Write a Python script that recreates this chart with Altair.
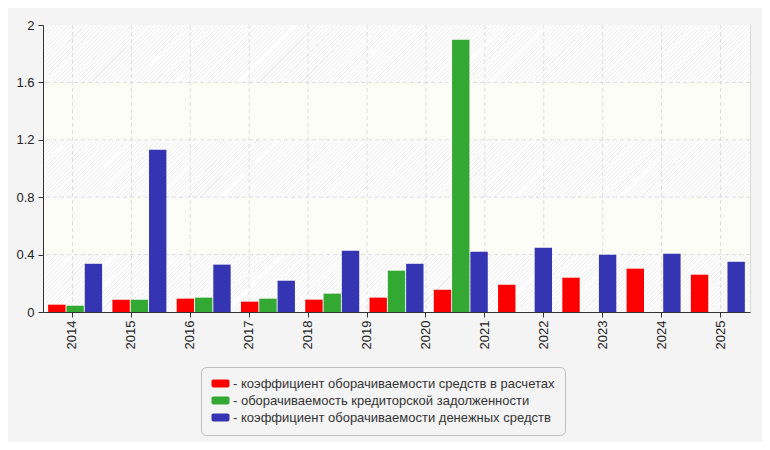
import altair as alt
import pandas as pd

# ---- data ----
periods = ["2014", "2015", "2016", "2017", "2018", "2019", "2020", "2021", "2022", "2023", "2024"]
axis_labels = ["2014", "2015", "2016", "2017", "2018", "2019", "2020", "2021", "2022", "2023", "2024", "2025"]

series_names = [
    "коэффициент оборачиваемости средств в расчетах",
    "оборачиваемость кредиторской задолженности",
    "коэффициент оборачиваемости денежных средств",
]
series_colors = ["#ff0000", "#33a933", "#3535b3"]

red_vals = [0.051, 0.086, 0.093, 0.072, 0.086, 0.100, 0.155, 0.190, 0.239, 0.302, 0.260]
green_vals = [0.044, 0.086, 0.100, 0.093, 0.128, 0.288, 1.897, None, None, None, None]
blue_vals = [0.336, 1.131, 0.330, 0.218, 0.427, 0.336, 0.420, 0.447, 0.399, 0.406, 0.350]

y_ticks = [0, 0.4, 0.8, 1.2, 1.6, 2]
band_kinds = ["hatch", "plain", "hatch", "plain", "hatch"]

# ---- tables ----
rows = []
for vals, name in zip([red_vals, green_vals, blue_vals], series_names):
    for p, v in zip(periods, vals):
        rows.append({"period": p, "series": name, "value": v})
bars_df = pd.DataFrame(rows)

bands_df = pd.DataFrame({"lo": y_ticks[:-1], "hi": y_ticks[1:], "kind": band_kinds})
ygrid_df = pd.DataFrame({"v": y_ticks[1:-1]})
xgrid_df = pd.DataFrame({"label": axis_labels})

W, H = 707, 287
yscale = alt.Scale(domain=[0, 2], nice=False, zero=True)

# diagonal hatch texture for alternate background bands (style only)
band_h = H * 0.4 / 2
r = band_h / W
k = 1.1
period = 4.2 / (W * k * (1 + r * r))
line_frac = 1.0 / 4.2
line_col = "#ececec"
bg_col = "#ffffff"
stops = []
o = 0.0
while o < 1.0:
    a = o
    b = min(o + period * line_frac, 1.0)
    c = min(o + period, 1.0)
    stops += [
        alt.GradientStop(offset=a, color=line_col),
        alt.GradientStop(offset=b, color=line_col),
        alt.GradientStop(offset=b, color=bg_col),
        alt.GradientStop(offset=c, color=bg_col),
    ]
    o += period
hatch = alt.LinearGradient(gradient="linear", stops=stops, x1=0, y1=0, x2=k, y2=k * r)


def yaxis():
    return alt.Axis(values=y_ticks, format="~g", title=None, grid=False, tickSize=5,
                    labelPadding=4, zindex=2)


bands_hatch = alt.Chart(bands_df).transform_filter(alt.datum.kind == "hatch").mark_rect(
    color=hatch
).encode(
    y=alt.Y("lo:Q", scale=yscale, axis=yaxis()),
    y2="hi:Q",
)

bands_plain = alt.Chart(bands_df).transform_filter(alt.datum.kind == "plain").mark_rect(
    color="#fdfdf7"
).encode(
    y=alt.Y("lo:Q", scale=yscale, axis=yaxis()),
    y2="hi:Q",
)

ygrid = alt.Chart(ygrid_df).mark_rule(color="#dcdcdc", strokeDash=[4, 3], strokeWidth=1).encode(
    y=alt.Y("v:Q", scale=yscale, axis=yaxis()),
)

xgrid = alt.Chart(xgrid_df).mark_rule(color="#dcdcdc", strokeDash=[4, 3], strokeWidth=1).encode(
    x=alt.X(
        "label:N",
        sort=axis_labels,
        scale=alt.Scale(domain=axis_labels, paddingInner=0, paddingOuter=0),
        axis=alt.Axis(
            orient="bottom", title=None, labelAngle=270, grid=False, tickSize=5,
            labelPadding=3, domain=True, zindex=2,
        ),
    ),
)

bars = alt.Chart(bars_df).mark_bar().encode(
    x=alt.X(
        "period:N",
        sort=periods,
        scale=alt.Scale(domain=periods, paddingInner=0.16, paddingOuter=0.08),
        axis=None,
    ),
    xOffset=alt.XOffset("series:N", sort=series_names,
                        scale=alt.Scale(domain=series_names, paddingInner=0.05, paddingOuter=0)),
    y=alt.Y("value:Q", scale=yscale, axis=yaxis()),
    color=alt.Color(
        "series:N",
        sort=series_names,
        scale=alt.Scale(domain=series_names, range=series_colors),
        legend=alt.Legend(
            title=None,
            orient="none",
            legendX=158,
            legendY=342,
            direction="vertical",
            labelExpr="'- ' + datum.label",
            symbolType="M-0.7,-0.65H1.7A0.3,0.3 0 0 1 2,-0.35V0.35A0.3,0.3 0 0 1 1.7,0.65H-0.7A0.3,0.3 0 0 1 -1,0.35V-0.35A0.3,0.3 0 0 1 -0.7,-0.65Z",
            symbolSize=144,
            symbolStrokeWidth=0,
            fillColor="#f4f4f4",
            strokeColor="#bdbdbd",
            cornerRadius=5,
            padding=10,
            rowPadding=3,
            labelOffset=9,
            labelLimit=400,
        ),
    ),
)

chart = (
    alt.layer(bands_hatch, bands_plain, ygrid, xgrid, bars)
    .resolve_scale(x="independent", color="independent")
    .properties(
        width=W,
        height=H,
        autosize=alt.AutoSizeParams(type="none"),
        padding={"left": 35, "top": 17, "right": 12, "bottom": 130},
        background="#f4f4f4",
    )
    .configure_view(stroke="#d9d9d9", strokeWidth=1)
    .configure_axis(
        domainColor="#333333",
        tickColor="#333333",
        labelColor="#222222",
        labelFont="Liberation Sans",
        labelFontSize=13,
    )
    .configure_legend(
        labelFont="Liberation Sans",
        labelFontSize=13,
        labelColor="#333333",
    )
)

chart.save("out.html", embed_options={"renderer": "svg", "actions": False})
